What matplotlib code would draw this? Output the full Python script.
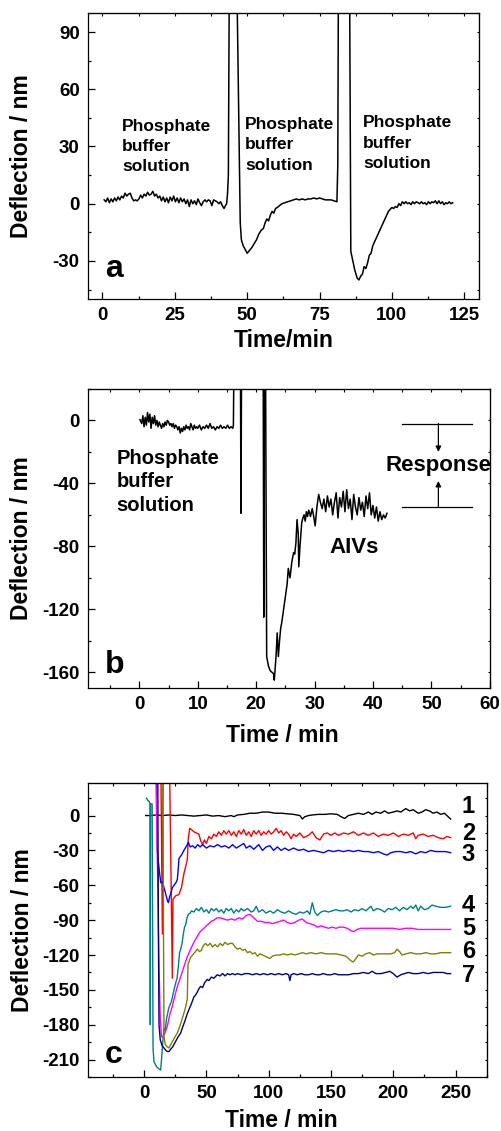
import matplotlib
matplotlib.use('Agg')
import matplotlib.pyplot as plt
from matplotlib.ticker import MultipleLocator
import numpy as np

plt.rcParams['font.family'] = ['Liberation Sans', 'DejaVu Sans']
plt.rcParams['font.weight'] = 'bold'
plt.rcParams['axes.labelweight'] = 'bold'
plt.rcParams['axes.unicode_minus'] = False

# ---------------- panel a: (time min, deflection nm) ----------------
trace_a = [(0.6,2),(1.2,1),(1.8,3),(2.4,0.5),(3,2.5),(3.6,1),(4.2,3),(4.8,1.5),(5.4,3.5),(6,2),
           (6.6,4),(7.2,3),(7.8,5.5),(8.4,4),(9,5),(9.6,5.5),(10.2,3),(10.8,1.5),(11.4,2),(12,1.5),
           (12.6,2.5),(13.2,4.5),(13.8,3),(14.4,5),(15,4),(15.6,6),(16.2,4.5),(16.8,5),(17.4,6.5),(18,4),
           (18.6,5),(19.2,3),(19.8,4),(20.4,1.5),(21,3.5),(21.6,1),(22.2,3),(22.8,0.5),(23.4,3.5),(24,1.5),
           (24.6,4),(25.2,1),(25.8,3),(26.4,0.5),(27,3),(27.6,1),(28.2,2.5),(28.8,0),(29.4,2),(30,-1.5),
           (30.6,2),(31.2,0),(31.8,1.5),(32.4,-0.5),(33,2.5),(33.6,0.5),(34.2,-1),(34.8,1),(35.4,2),(36,1),
           (36.6,2),(37.2,1.5),(37.8,-1),(38.4,2),(39,1.5),(39.6,1),(40.2,0),(40.8,1),(41.4,-1),(42,-2.5),
           (42.5,-1),(42.9,0),(43.2,5),(43.5,15),(43.8,110),(46.5,110),(47.6,-10),(48.0,-19),(48.6,-22),
           (49.3,-24),(50.0,-26),(50.8,-24.5),(51.6,-23),(52.4,-21),(53.2,-19),(54,-16),(54.8,-14),
           (55.6,-13),(56.2,-10),(56.8,-8),(57.4,-9),(58,-6),(58.6,-4),(59.2,-5),(59.8,-2.5),(60.4,-2),
           (61.2,-1),(62,0),(63,0.5),(64,1),(65,1.5),(66,2),(67,2.5),(68,2),(69,2.5),(70,2),(71,2.5),
           (72,2.5),(73,3),(74,2.5),(75,3),(76,2.5),(77,2),(78,2),(79,2),(80,1.5),(81,1),(81.3,20),
           (81.5,110),(85.4,110),(85.8,-25),(86.5,-30),(87.2,-35),(88,-39),(88.6,-40),(89.2,-38),
           (89.8,-37),(90.4,-33),(91,-34),(91.6,-31),(92.2,-27),(92.8,-26),(93.4,-22),(94,-20),(94.6,-18),
           (95.2,-16),(95.8,-14),(96.4,-12),(97,-10),(97.6,-8),(98.2,-6),(98.8,-4),(99.4,-3),(100,-2),
           (100.6,-2.5),(101.2,-1.5),(101.8,-2),(102.4,0),(103,-1),(103.6,1),(104.2,0),(104.8,1),(105.4,0),
           (106,0.5),(106.6,-0.5),(107.2,1),(107.8,0),(108.4,1),(109,0.5),(109.6,0),(110.2,1),(110.8,0),
           (111.4,0.5),(112,-0.5),(112.6,1),(113.2,0),(113.8,1),(114.4,0.5),(115,1.5),(115.6,0),(116.2,1.5),
           (116.8,0),(117.4,1),(118,-0.5),(118.6,0.5),(119.2,0),(119.8,1),(120.4,0),(121,0.5)]
labels_a_x = [6.8, 49.3, 90.1]
labels_a_y = [30, 30.8, 31.7]

# ---------------- panel b ----------------
trace_b = [(0.1,0.5),(0.4,-2),(0.6,3),(0.8,-4),(1.0,2),(1.2,-3),(1.4,5),(1.6,-1),(1.8,4),(2.0,-5),
           (2.2,2),(2.4,-2),(2.6,3),(2.8,-3),(3.0,0),(3.2,-4),(3.4,-1),(3.6,-3),(3.8,-5),(4.0,-2),
           (4.2,-4),(4.4,-1),(4.6,-3),(4.8,0),(5.0,-1),(5.2,-3),(5.4,-2),(5.6,-4),(5.8,-2),(6.0,-5),
           (6.2,-3),(6.4,-4),(6.6,-6),(6.8,-4),(7.0,-8),(7.2,-5),(7.4,-7),(7.6,-4),(7.8,-6),(8.0,-3),
           (8.2,-5),(8.4,-4),(8.6,-6),(8.8,-2),(9.0,-4),(9.2,-6),(9.4,-3),(9.6,-5),(9.8,-4),(10,-5),
           (10.3,-3),(10.6,-6),(10.9,-4),(11.2,-5),(11.5,-3),(11.8,-5),(12.1,-2),(12.4,-5),(12.7,-4),
           (13,-6),(13.3,-4),(13.6,-5),(13.9,-3),(14.2,-5),(14.5,-4),(14.8,-5),(15.1,-3),(15.4,-5),
           (15.7,-4),(16.0,-5),(16.1,-3),(16.2,40),(17.3,40),(17.4,-59),(17.5,40),(21.2,40),(21.3,-125),
           (21.4,40),(21.6,40),(21.8,-150),(22.1,-156),(22.4,-159),(22.7,-160),(23.0,-161),(23.1,-165),
           (23.4,-150),(23.6,-135),(23.8,-150),(24.0,-140),(24.2,-132),(24.4,-128),(24.7,-120),(25.0,-112),
           (25.3,-104),(25.5,-94),(25.8,-100),(26.1,-90),(26.4,-84),(26.6,-85),(26.8,-78),(27.0,-63),
           (27.2,-72),(27.3,-93),(27.5,-80),(27.8,-65),(28.0,-62),(28.2,-60),(28.4,-64),(28.6,-58),
           (28.8,-61),(29.0,-57),(29.3,-61),(29.6,-56),(29.9,-62),(30.1,-67),(30.4,-55),(30.7,-47),
           (31.0,-52),(31.3,-56),(31.6,-50),(31.9,-58),(32.2,-48),(32.5,-55),(32.8,-50),(33.1,-60),
           (33.4,-52),(33.7,-46),(34.0,-62),(34.3,-49),(34.6,-55),(34.9,-45),(35.2,-58),(35.5,-44),
           (35.8,-56),(36.1,-50),(36.4,-63),(36.7,-47),(37.0,-55),(37.3,-60),(37.6,-49),(37.9,-57),
           (38.2,-52),(38.5,-61),(38.8,-48),(39.1,-56),(39.4,-46),(39.7,-60),(40.0,-54),(40.3,-62),
           (40.6,-55),(40.9,-64),(41.2,-58),(41.5,-63),(41.8,-60),(42.1,-62),(42.4,-59)]
resp_top, resp_bottom = -2, -55
resp_x0, resp_x1, resp_xa = 45, 57, 51.2

# ---------------- panel c ----------------
c1 = [(1.3,0),(5,0),(10,0.5),(15,0),(20,0.5),(25,0),(30,0.5),(35,0),(40,-0.5),(45,0),(50,0.5),(55,-0.5),
      (60,0),(65,-1),(70,0),(72,-1),(75,0.5),(80,1),(85,2),(90,2),(95,3),(100,3),(105,2),(110,2),
      (115,1.5),(120,1),(125,0),(127,-3),(129,-1),(132,0),(135,0.5),(140,1),(145,1),(150,1.5),(155,1),
      (158,-1),(161,-2.5),(164,0),(168,1),(172,2),(176,1),(180,3),(183,1),(186,3),(190,2),(193,4),
      (196,2),(200,3),(203,4),(206,3),(210,6),(213,4),(216,5),(220,2),(223,3),(226,5),(229,4),(232,2),
      (235,3),(238,1),(241,2),(244,-1),(246,-3)]
c2 = [(13.5,40),(14.7,-102),(15.3,40),(20.5,40),(22.7,-140),(23.2,-72),(25.4,-69),(28,-68),(30,-62),
      (32,-50),(34.7,-38),(35.5,-20),(36.6,-11),(38,-12),(40,-14),(42,-15),(44,-16),(45.5,-22),(47,-25),
      (48.5,-21),(50,-24),(52,-18),(54,-20),(56,-16),(58,-18),(60,-14),(62,-17),(64,-13),(66,-16),
      (68,-13),(70,-17),(72,-14),(74,-18),(76,-13),(78,-16),(80,-12),(82,-17),(84,-14),(86,-18),
      (88,-13),(90,-16),(92,-13),(94,-17),(96,-14),(98,-16),(100,-13),(102,-16),(104,-14),(106,-11),
      (108,-15),(110,-13),(112,-17),(114,-14),(116,-16),(118,-20),(120,-16),(122,-18),(125,-15),
      (128,-19),(132,-17),(135,-14),(138,-19),(141,-21),(144,-16),(147,-15),(150,-17),(153,-15),
      (156,-17),(160,-15),(164,-16),(168,-14),(172,-17),(176,-15),(180,-17),(184,-15),(188,-18),
      (192,-16),(196,-17),(200,-15),(204,-18),(208,-16),(212,-17),(216,-15),(218,-20),(220,-17),
      (224,-16),(228,-18),(232,-17),(236,-19),(240,-20),(243,-18),(246,-19)]
c3 = [(10,40),(10.7,-31),(11.5,-40),(12.5,-50),(13.5,-58),(14.7,-57),(16,-62),(17.5,-68),(18.7,-73),
      (19.5,-75),(20.5,-70),(22,-65),(22.7,-62),(24,-60),(25.5,-58),(26.7,-55),(27.5,-45),(28,-37),
      (30,-34),(32,-30),(34.7,-25),(35.5,-23),(37,-27),(39,-26),(41,-28),(43,-25),(45,-27),(47,-25),
      (50,-28),(53,-26),(56,-27),(59,-25),(62,-27),(65,-26),(68,-28),(71,-25),(74,-28),(77,-26),
      (80,-24),(82,-28),(85,-26),(88,-29),(90,-27),(92,-25),(95,-30),(98,-27),(101,-26),(104,-30),
      (107,-27),(110,-30),(113,-28),(116,-30),(120,-28),(124,-30),(128,-29),(132,-31),(136,-30),
      (140,-31),(144,-32),(148,-30),(152,-31),(156,-30),(160,-31),(164,-30),(168,-31),(172,-30),
      (176,-31),(180,-31),(184,-32),(188,-31),(192,-33),(195,-34),(198,-32),(202,-31),(206,-31),
      (210,-32),(214,-31),(218,-33),(222,-31),(226,-32),(230,-30),(234,-31),(238,-31),(242,-31),(246,-32)]
c4 = [(1.9,15),(3,13),(4.2,12),(4.8,10),(5.0,-180),(5.2,10),(6.5,10),(7.2,-200),(8,-212),(9,-214),
      (10,-216),(11,-217),(12,-218),(13.3,-219),(14,-210),(15,-195),(16,-183),(17,-185),(18,-175),
      (20,-165),(22,-160),(24,-150),(25.4,-144),(26.5,-140),(27.5,-130),(28.5,-118),(29.4,-115),
      (30.5,-110),(31.5,-102),(32.5,-96),(33.4,-94),(34.5,-88),(35.5,-85),(37,-84),(38,-82),(40,-83),
      (42,-80),(44,-82),(46,-79),(48,-83),(50,-81),(52,-84),(54,-80),(56,-82),(58,-80),(60,-83),
      (62,-81),(64,-84),(66,-80),(68,-82),(70,-80),(72,-84),(74,-81),(76,-83),(78,-80),(80,-82),
      (83,-80),(86,-83),(88,-82),(90,-78),(92,-83),(95,-81),(98,-84),(101,-82),(104,-84),(107,-81),
      (110,-83),(113,-84),(116,-82),(119,-84),(122,-85),(125,-83),(128,-84),(131,-82),(133,-85),
      (135,-75),(137,-83),(139,-86),(142,-83),(145,-82),(148,-83),(151,-82),(154,-81),(157,-82),
      (160,-82),(163,-81),(166,-83),(169,-81),(172,-82),(175,-80),(178,-82),(180,-80),(182,-78),
      (184,-82),(187,-80),(190,-81),(193,-83),(196,-80),(199,-81),(202,-79),(205,-82),(208,-79),
      (211,-81),(214,-78),(216,-80),(218,-77),(220,-82),(222,-78),(225,-81),(228,-80),(231,-77),
      (234,-78),(238,-79),(242,-79),(246,-78)]
c5 = [(9.4,40),(11,-60),(12,-130),(13,-175),(14,-190),(15,-191),(16.5,-188),(18.7,-181),(20.5,-172),
      (22.7,-164),(24.5,-156),(26.7,-147),(29,-140),(32,-130),(34.5,-122),(37.4,-115),(40,-109),
      (42.7,-104),(45,-100),(48,-97),(51,-94),(54,-91),(56,-90),(58.7,-88),(61,-88),(64,-89),(67,-90),
      (70,-89),(73,-90),(76,-88),(79,-89),(82,-86),(85,-85),(88,-88),(91,-91),(94,-91),(97,-92),
      (100,-92),(103,-93),(106,-92),(109,-91),(112,-90),(115,-92),(118,-93),(121,-92),(124,-90),
      (127,-89),(130,-92),(133,-93),(136,-94),(139,-96),(142,-95),(145,-96),(148,-97),(151,-96),
      (154,-97),(157,-96),(160,-96),(163,-97),(166,-99),(168,-100),(171,-98),(174,-97),(177,-97),
      (180,-97),(185,-97),(190,-97),(195,-97),(200,-97),(205,-98),(210,-97),(215,-97),(220,-98),
      (225,-98),(230,-98),(235,-98),(240,-98),(246,-98)]
c6 = [(15,40),(15.6,-100),(16,-190),(17,-197),(18.5,-199),(20,-200),(22,-196),(24,-192),(26.7,-187),
      (28.5,-182),(30,-177),(32,-170),(33.5,-164),(34.7,-158),(35,-140),(35.3,-128),(36,-126),
      (37.4,-122),(39,-120),(40.5,-118),(42.7,-115),(44.5,-117),(46,-116),(47.5,-112),(49.4,-110),
      (51,-112),(53,-110),(55,-113),(57,-111),(59,-113),(61,-110),(63,-112),(65,-109),(67,-111),
      (69,-110),(71,-110),(73,-113),(75,-115),(77,-114),(79,-116),(81,-115),(83,-118),(85,-117),
      (87,-119),(89,-118),(91,-121),(93,-119),(95,-120),(97,-121),(99,-122),(101,-123),(103,-121),
      (106,-120),(109,-120),(112,-119),(115,-120),(118,-119),(121,-120),(124,-119),(127,-118),
      (130,-119),(134,-118),(138,-119),(142,-118),(146,-119),(150,-119),(154,-119),(158,-120),
      (162,-121),(164,-123),(166,-125),(168,-126),(170,-123),(172,-120),(175,-121),(178,-119),
      (181,-118),(184,-120),(187,-119),(190,-119),(194,-119),(198,-119),(201,-118),(203,-115),
      (205,-117),(207,-120),(210,-119),(214,-118),(218,-119),(222,-119),(226,-118),(230,-119),
      (234,-119),(238,-118),(242,-118),(246,-118)]
c7 = [(11,40),(11.5,-100),(12,-180),(13,-193),(14.5,-198),(16,-200),(17.5,-202),(18.7,-203),(20,-203),
      (21.4,-201),(23,-199),(25,-195),(27,-191),(29.4,-187),(31,-182),(33,-176),(34.5,-171),(36,-167),
      (38,-162),(40,-156),(41,-155),(42.7,-152),(44,-149),(45.4,-147),(47,-148),(48.5,-144),(50.7,-141),
      (52,-142),(54,-139),(56,-140),(58.7,-137),(61,-138),(63,-136),(65,-138),(67,-136),(69,-137),
      (71,-136),(73,-137),(75,-136),(78,-137),(81,-136),(84,-136),(87,-137),(90,-136),(93,-137),
      (96,-136),(99,-137),(102,-136),(105,-137),(108,-136),(111,-137),(114,-136),(116,-137),(117,-142),
      (118,-137),(120,-136),(123,-137),(126,-136),(129,-137),(132,-137),(135,-136),(138,-137),
      (141,-137),(144,-136),(147,-137),(150,-137),(153,-136),(156,-137),(160,-137),(164,-137),
      (168,-136),(172,-136),(176,-135),(180,-136),(183,-134),(186,-136),(190,-136),(194,-135),
      (197,-134),(200,-136),(203,-139),(206,-137),(209,-136),(212,-135),(216,-136),(220,-136),
      (224,-135),(228,-136),(232,-135),(236,-135),(240,-135),(243,-136),(246,-136)]
curves_c = [c1, c2, c3, c4, c5, c6, c7]
colors_c = ['black', '#ff0000', '#0000ff', '#008080', '#ff00ff', '#808000', '#000080']
names_c = ['1', '2', '3', '4', '5', '6', '7']
names_c_y = [7.7, -15.7, -33.8, -77.4, -96.8, -117, -137.8]


def style(ax, xmaj, xmin, ymaj, ymin):
    ax.xaxis.set_major_locator(MultipleLocator(xmaj))
    ax.xaxis.set_minor_locator(MultipleLocator(xmin))
    ax.yaxis.set_major_locator(MultipleLocator(ymaj))
    ax.yaxis.set_minor_locator(MultipleLocator(ymin))
    ax.tick_params(which='major', direction='in', length=5, width=0.9, labelsize=13.5, pad=6)
    ax.tick_params(which='minor', direction='in', length=2.5, width=0.9)
    for s in ax.spines.values():
        s.set_linewidth(0.9)
    # short ticks mirrored on top / right
    top = ax.secondary_xaxis('top')
    top.xaxis.set_major_locator(MultipleLocator(xmaj))
    top.xaxis.set_minor_locator(MultipleLocator(xmin))
    top.tick_params(which='both', direction='in', length=1.8, width=0.8, labeltop=False)
    right = ax.secondary_yaxis('right')
    right.yaxis.set_major_locator(MultipleLocator(ymaj))
    right.yaxis.set_minor_locator(MultipleLocator(ymin))
    right.tick_params(which='both', direction='in', length=1.8, width=0.8, labelright=False)
    for tl in ax.get_xticklabels() + ax.get_yticklabels():
        tl.set_fontweight('bold')


fig = plt.figure(figsize=(5.01, 11.31), dpi=100)

# ---- a ----
ax = fig.add_axes([0.1756, 0.7356, 0.780, 0.2529])
ta, ya = np.array(trace_a).T
ax.plot(ta, ya, color='black', lw=1.1)
ax.set_xlim(-5, 130)
ax.set_ylim(-50, 100)
style(ax, 25, 12.5, 30, 15)
ax.set_xlabel('Time/min', fontsize=16.5)
ax.set_ylabel('Deflection / nm', fontsize=16.5)
ax.xaxis.set_label_coords(0.5, -0.105)
ax.yaxis.set_label_coords(-0.14, 0.5)
for x, y in zip(labels_a_x, labels_a_y):
    ax.text(x, y, 'Phosphate\nbuffer\nsolution', fontsize=12.5, ha='left', va='center',
            linespacing=1.45)
ax.text(0.043, 0.077, 'a', transform=ax.transAxes, fontsize=23, ha='left', va='baseline')

# ---- b ----
ax = fig.add_axes([0.1756, 0.3917, 0.802, 0.2644])
tb, yb = np.array(trace_b).T
ax.plot(tb, yb, color='black', lw=1.1)
ax.set_xlim(-8.8, 60)
ax.set_ylim(-170, 20)
style(ax, 10, 5, 40, 20)
ax.set_xlabel('Time / min', fontsize=16.5)
ax.set_ylabel('Deflection / nm', fontsize=16.5)
ax.xaxis.set_label_coords(0.483, -0.12)
ax.yaxis.set_label_coords(-0.136, 0.5)
ax.text(-3.9, -39, 'Phosphate\nbuffer\nsolution', fontsize=14.5, ha='left', va='center',
        linespacing=1.3)
ax.text(36.7, -81, 'AIVs', fontsize=16, ha='center', va='center')
ax.plot([resp_x0, resp_x1], [resp_top, resp_top], color='black', lw=0.9)
ax.plot([resp_x0, resp_x1], [resp_bottom, resp_bottom], color='black', lw=0.9)
ax.annotate('', xy=(resp_xa, -20), xytext=(resp_xa, resp_top),
            arrowprops=dict(arrowstyle='-|>', color='black', lw=0.9, mutation_scale=8,
                            shrinkA=0, shrinkB=0))
ax.annotate('', xy=(resp_xa, -38.5), xytext=(resp_xa, resp_bottom),
            arrowprops=dict(arrowstyle='-|>', color='black', lw=0.9, mutation_scale=8,
                            shrinkA=0, shrinkB=0))
ax.text(resp_xa, -28.5, 'Response', fontsize=16, ha='center', va='center', clip_on=False)
ax.text(0.043, 0.049, 'b', transform=ax.transAxes, fontsize=23, ha='left', va='baseline')

# ---- c ----
ax = fig.add_axes([0.1756, 0.0477, 0.796, 0.26])
for crv, col in zip(curves_c, colors_c):
    tc, yc = np.array(crv).T
    ax.plot(tc, yc, color=col, lw=1.0)
ax.set_xlim(-45, 275)
ax.set_ylim(-225, 28)
style(ax, 50, 25, 30, 15)
ax.set_xlabel('Time / min', fontsize=16.5)
ax.set_ylabel('Deflection / nm', fontsize=16.5)
ax.xaxis.set_label_coords(0.486, -0.11)
ax.yaxis.set_label_coords(-0.136, 0.5)
for nm, y in zip(names_c, names_c_y):
    ax.text(255, y, nm, fontsize=17, ha='left', va='center')
ax.text(0.043, 0.047, 'c', transform=ax.transAxes, fontsize=23, ha='left', va='baseline')

fig.savefig('out.png', dpi=100)
